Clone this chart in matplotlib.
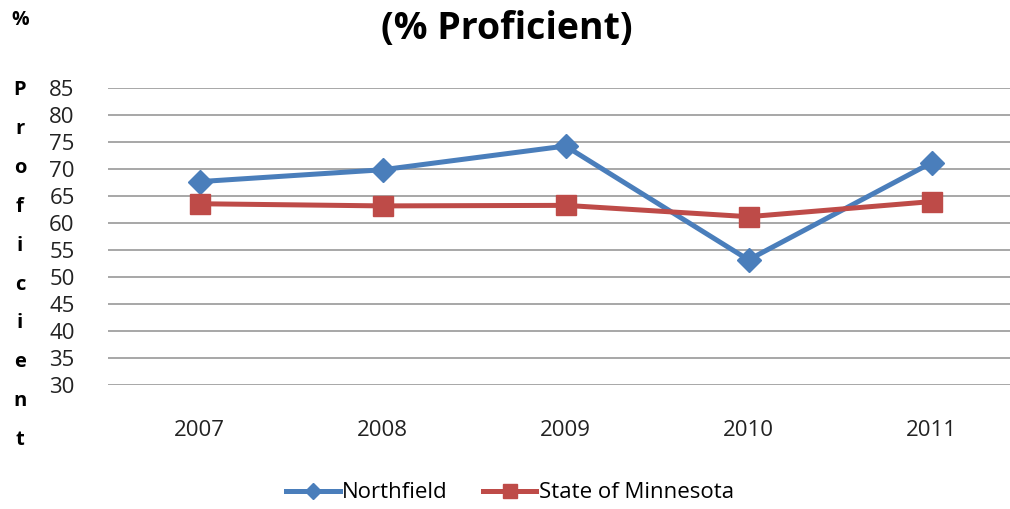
import matplotlib.pyplot as plt

years = ["2007", "2008", "2009", "2010", "2011"]
northfield = [67.7, 69.9, 74.3, 53.2, 71.2]
minnesota = [63.6, 63.2, 63.3, 61.2, 64.0]
ylabel_letters = ["P", "r", "o", "f", "i", "c", "i", "e", "n", "t"]

plt.rcParams["font.family"] = ["Open Sans", "DejaVu Sans"]

fig = plt.figure(figsize=(10.10, 5.09), dpi=100)
ax = fig.add_axes([108 / 1010, 124 / 509, 915 / 1010, 296.7 / 509])

x = range(len(years))
ax.plot(x, northfield, color="#4A7EBB", lw=3.6, marker="D", ms=12,
        label="Northfield")
ax.plot(x, minnesota, color="#BE4B48", lw=3.6, marker="s", ms=14,
        label="State of Minnesota")

ax.set_xlim(-0.5, len(years) - 0.5)
ax.set_ylim(30, 85)
ax.set_yticks(range(30, 90, 5))
ax.set_xticks(list(x))
ax.set_xticklabels(years)
ax.tick_params(axis="both", length=0, labelsize=16, colors="#222222")
ax.tick_params(axis="y", pad=24)
ax.tick_params(axis="x", pad=25)
ax.grid(axis="y", color="#a0a0a0", lw=1.3)
ax.set_axisbelow(True)
for s in ax.spines.values():
    s.set_visible(False)

fig.text(0.502, 1 - 29 / 509, "(% Proficient)", ha="center", va="center",
         fontsize=27, fontweight="bold")

fig.text(20 / 1010, 1 - 20 / 509, "%", ha="center", va="center",
         fontsize=14, fontweight="bold")
for i, ch in enumerate(ylabel_letters):
    fig.text(20 / 1010, 1 - (90 + i * 38.9) / 509, ch, ha="center",
             va="center", fontsize=14.5, fontweight="bold")

fig.legend(loc="center", bbox_to_anchor=(0.505, 1 - 493 / 509), ncol=2,
           frameon=False, fontsize=16, handlelength=2.4, columnspacing=1.6,
           handletextpad=0.1, markerscale=0.7)

fig.savefig("out.png", dpi=100)
